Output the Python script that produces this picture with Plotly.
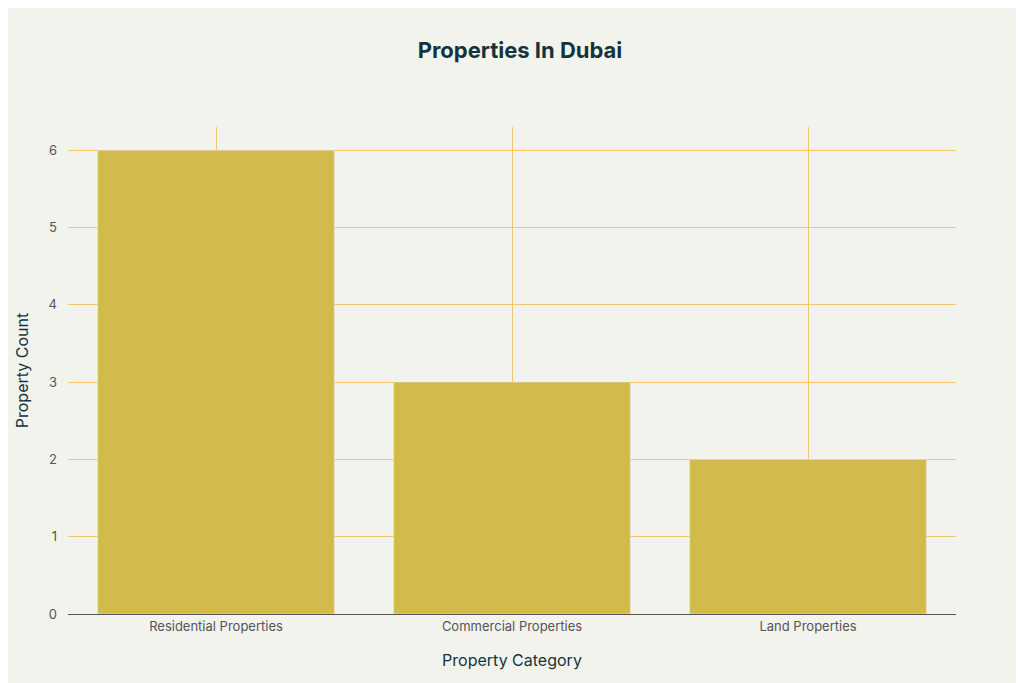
import plotly.graph_objects as go

categories = ["Residential Properties", "Commercial Properties", "Land Properties"]
counts = [6, 3, 2]

fig = go.Figure(go.Bar(x=categories, y=counts, marker_color="#D2BA4C", width=0.8))
fig.update_layout(
    width=1024, height=683,
    paper_bgcolor="#F3F3EE", plot_bgcolor="#F3F3EE",
    title=dict(text="<b>Properties In Dubai</b>", x=0.5, y=0.95, font=dict(size=22, color="#13343B", family="Inter")),
    margin=dict(l=60, r=76, t=119, b=77),
    font=dict(family="Inter", color="#555"),
    showlegend=False,
)
fig.update_xaxes(title=dict(text="Property Category", font=dict(size=16, color="#13343B"), standoff=22),
                 showgrid=True, gridcolor="#F5C56E", gridwidth=1,
                 showline=True, linecolor="#555", tickfont=dict(size=13))
fig.update_yaxes(title=dict(text="Property Count", font=dict(size=16, color="#13343B")),
                 range=[0, 6.3], dtick=1, showgrid=True, gridcolor="#F5C56E", gridwidth=1,
                 zeroline=False, tickfont=dict(size=13), ticks="", ticklabelstandoff=10)
fig.write_html("out.html")
